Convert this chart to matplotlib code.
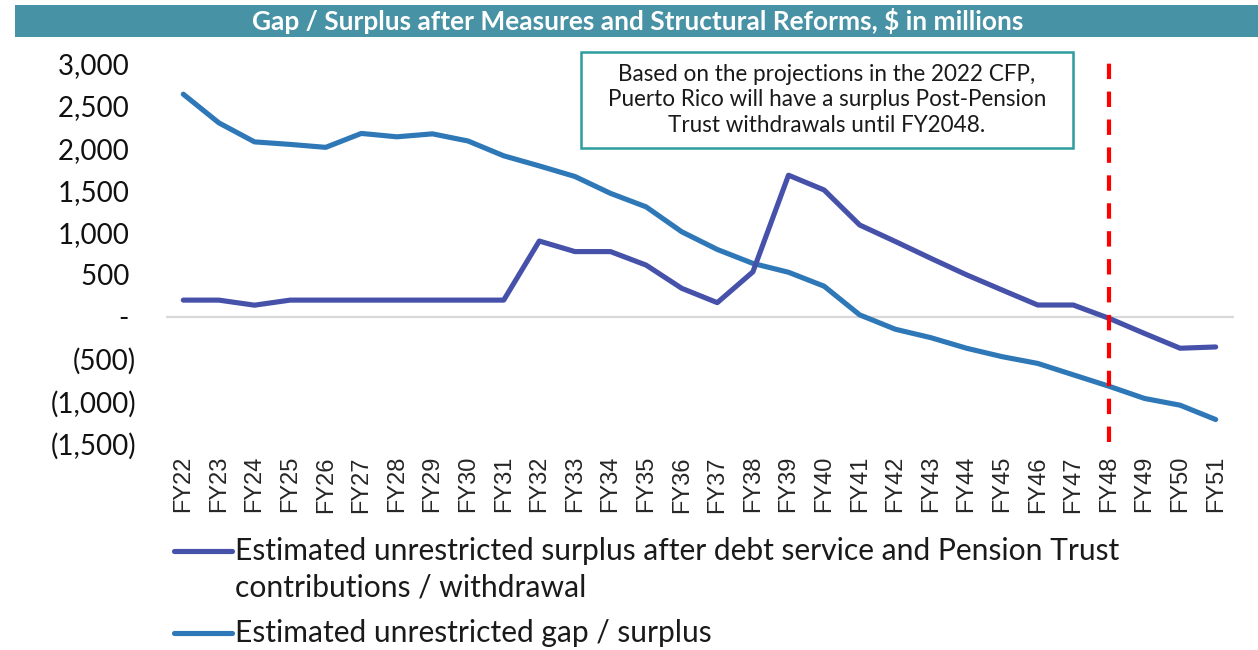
import matplotlib
matplotlib.use("Agg")
import matplotlib.pyplot as plt
from matplotlib.lines import Line2D
from matplotlib.patches import Rectangle

# ---------------- data ----------------
years = ["FY22", "FY23", "FY24", "FY25", "FY26", "FY27", "FY28", "FY29", "FY30", "FY31",
         "FY32", "FY33", "FY34", "FY35", "FY36", "FY37", "FY38", "FY39", "FY40", "FY41",
         "FY42", "FY43", "FY44", "FY45", "FY46", "FY47", "FY48", "FY49", "FY50", "FY51"]
surplus_after_debt = [200, 200, 140, 200, 200, 200, 200, 200, 200, 200,
                      900, 775, 775, 615, 340, 170, 535, 1680, 1505, 1090,
                      895, 695, 500, 320, 142, 142, -15, -195, -370, -355]
gap_surplus = [2640, 2300, 2075, 2045, 2010, 2175, 2135, 2170, 2085, 1910,
               1790, 1665, 1465, 1305, 1010, 800, 635, 530, 365, 25,
               -145, -245, -370, -470, -550, -685, -820, -965, -1045, -1215]
series_labels = ["Estimated unrestricted surplus after debt service and Pension Trust\ncontributions / withdrawal",
                 "Estimated unrestricted gap / surplus"]
y_ticks = [-1500, -1000, -500, 0, 500, 1000, 1500, 2000, 2500, 3000]
y_tick_labels = ["(1,500)", "(1,000)", "(500)", "- ", "500 ", "1,000 ", "1,500 ", "2,000 ", "2,500 ", "3,000 "]
threshold_year = "FY48"
threshold_span = [-1480, 3020]
title = "Gap / Surplus after Measures and Structural Reforms, $ in millions"
note = ("Based on the projections in the 2022 CFP,\n"
        "Puerto Rico will have a surplus Post-Pension\n"
        "Trust withdrawals until FY2048.")

# ---------------- style ----------------
W, H = 1258, 650
PURPLE = "#4651AA"
BLUE = "#2E78B7"
TEAL_BAR = "#4892A5"
TEAL_BOX = "#2C9C9E"
FONT = ["Lato", "DejaVu Sans"]

fig = plt.figure(figsize=(W / 100, H / 100), dpi=100)
fig.patch.set_facecolor("white")

def fx(px):
    return px / W

def fy(py):
    return 1 - py / H

ax_l, ax_r, ax_t, ax_b = 165.5, 1233.5, 63.8, 443.6
ax = fig.add_axes([fx(ax_l), fy(ax_b), fx(ax_r - ax_l), (ax_b - ax_t) / H])
x = list(range(len(years)))

ax.axhline(0, color="#D9D9D9", lw=1.6, zorder=1)
ax.plot(x, gap_surplus, color=BLUE, lw=3.7, solid_capstyle="round",
        solid_joinstyle="round", zorder=3)
ax.plot(x, surplus_after_debt, color=PURPLE, lw=3.7, solid_capstyle="round",
        solid_joinstyle="round", zorder=4)
xi = years.index(threshold_year)
ax.plot([xi, xi], threshold_span, color="#FF0000", lw=3.0, dashes=(3.7, 3.0),
        clip_on=False, zorder=5)

ax.set_xlim(-0.5, len(years) - 0.5)
ax.set_ylim(-1500, 3000)
ax.set_xticks(x)
ax.set_xticklabels(years, rotation=90, fontsize=17, family="Liberation Sans",
                   color="#262626")
ax.set_yticks(y_ticks)
ax.set_yticklabels(y_tick_labels, fontsize=20, family=FONT, color="#111111")
ax.tick_params(axis="both", length=0)
ax.tick_params(axis="x", pad=9)
ax.tick_params(axis="y", pad=21)
for s in ax.spines.values():
    s.set_visible(False)
ax.set_facecolor("none")

# title bar
fig.add_artist(Rectangle((fx(15), fy(37)), 1 - fx(15), 32 / H, transform=fig.transFigure,
                         facecolor=TEAL_BAR, edgecolor="none", zorder=0))
t_title = fig.text(fx(638), fy(21), title, color="white", fontweight="bold",
                   fontsize=16, family=FONT, ha="center", va="center")

# annotation box
fig.add_artist(Rectangle((fx(581), fy(148)), fx(1073 - 581), (148 - 52) / H,
                         transform=fig.transFigure, facecolor="white",
                         edgecolor=TEAL_BOX, lw=1.8, zorder=6))
t_note = fig.text(fx(827), fy(100), note, ha="center", va="center", fontsize=14,
                  family=FONT, color="#1a1a1a", linespacing=1.25, zorder=7)

# legend (manual)
leg_y = [551, 633]
leg_cols = [PURPLE, BLUE]
t_leg = []
for yy, c, lab in zip(leg_y, leg_cols, series_labels):
    fig.add_artist(Line2D([fx(174), fx(232)], [fy(yy), fy(yy)], color=c, lw=3.7,
                          solid_capstyle="round", transform=fig.transFigure))
    t = fig.text(fx(235), fy(yy), lab, ha="left", va="baseline", fontsize=18,
                 family=FONT, color="#1a1a1a", linespacing=1.35)
    t_leg.append(t)

# fit text widths to the reference
fig.canvas.draw()
r = fig.canvas.get_renderer()

def fit(t, target, line=None):
    if line is not None:
        s = t.get_text()
        t.set_text(s.split("\n")[line])
        w = t.get_window_extent(r).width
        t.set_text(s)
    else:
        w = t.get_window_extent(r).width
    t.set_fontsize(t.get_fontsize() * target / w)

fit(t_title, 773)
fit(t_note, 441, line=1)
fit(t_leg[0], 885, line=0)
t_leg[1].set_fontsize(t_leg[0].get_fontsize())

# place legend texts: first line centered at row y
fig.canvas.draw()
for t, yy in zip(t_leg, leg_y):
    s = t.get_text()
    t.set_text(s.split("\n")[0])
    bb = t.get_window_extent(r)
    t.set_text(s)
    t.set_va("top")
    t.set_y(fy(yy) + (bb.height / 2) / H)

fig.savefig("out.png", dpi=100, facecolor="white")
